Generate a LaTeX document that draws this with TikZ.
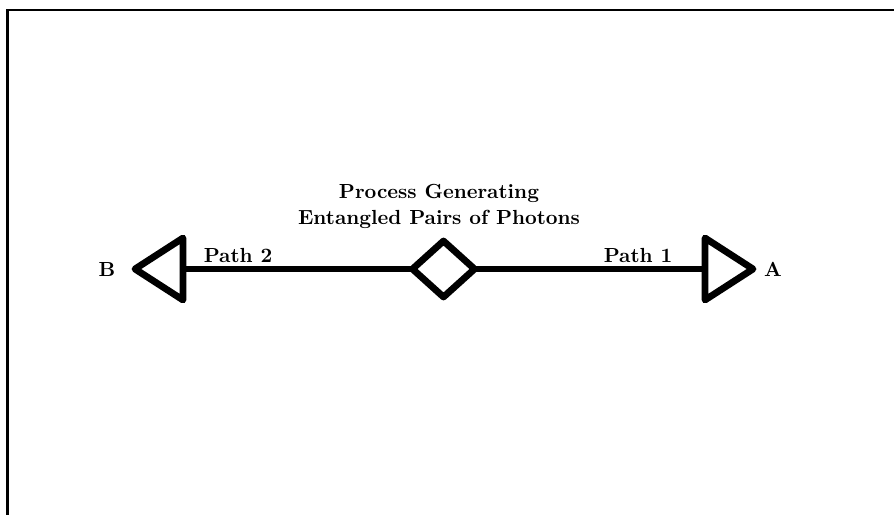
\documentclass[tikz,border=0pt]{standalone}
\usepackage{tikz}
\usetikzlibrary{shapes.geometric}

\tikzset{
    beam/.style={line width=3.4pt},
    source/.style={diamond, draw, line width=3.4pt, line join=round, minimum width=31pt, minimum height=28pt, inner sep=0pt, outer sep=0pt},
    lbl/.style={font=\fontsize{10.2pt}{13pt}\selectfont\bfseries}
}

\begin{document}
\begin{tikzpicture}[x=0.5pt,y=-0.5pt]
    \useasboundingbox (0,0) rectangle (894,515);
    \draw[line width=1.1pt] (894,10) -- (7.5,10) -- (7.5,515);

    \node[source] (src) at (443.5,269) {};
    \coordinate (baseB) at (183,269);
    \coordinate (baseA) at (705,269);

    % detectors
    \draw[beam, line join=round] (baseB) ++(0,-31) -- ++(-48,31) -- ++(48,31) -- cycle;
    \draw[beam, line join=round] (baseA) ++(0,-31) -- ++(48,31) -- ++(-48,31) -- cycle;

    \draw[beam] (src.west) -- (baseB);
    \draw[beam] (src.east) -- (baseA);

    \node[lbl] (labB) at (107,269) {B};
    \node[lbl] (labA) at (773,269) {A};
    \node[lbl] (path2) at (238,255) {Path 2};
    \node[lbl] (path1) at (638,255) {Path 1};
    \node[lbl, align=center] (title) at (439,206) {Process Generating\\Entangled Pairs of Photons};
\end{tikzpicture}
\end{document}
